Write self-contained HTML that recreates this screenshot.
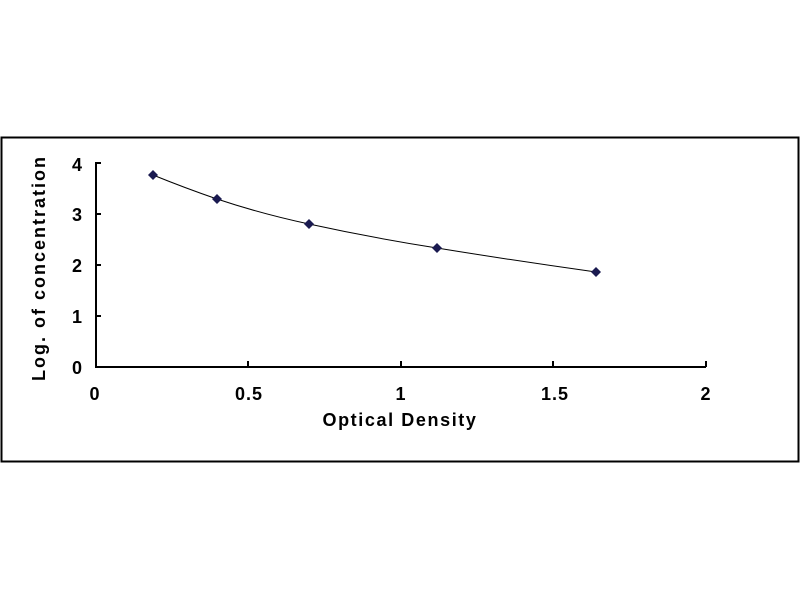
<!DOCTYPE html>
<html><head><style>body{margin:0;background:#fff}</style></head><body>
<svg width="800" height="600" xmlns="http://www.w3.org/2000/svg" font-family="Liberation Sans, sans-serif" font-weight="bold">
<rect x="0" y="0" width="800" height="600" fill="#fff"/>
<rect x="1.5" y="137.5" width="797" height="324" fill="none" stroke="#000" stroke-width="2"/>
<g stroke="#000" stroke-width="2" fill="none">
<path d="M96 162V367H706"/>
<path d="M96 163h5M96 214h5M96 265h5M96 316h5"/>
<path d="M248 367v-6M401 367v-6M553 367v-6M706 367v-6"/>
</g>
<g font-size="18" text-anchor="end">
<text x="82" y="171">4</text><text x="82" y="221">3</text><text x="82" y="272">2</text><text x="82" y="323">1</text><text x="82" y="374">0</text>
</g>
<g font-size="18" text-anchor="middle" letter-spacing="1">
<text x="95" y="400">0</text><text x="249" y="400">0.5</text><text x="401" y="400">1</text><text x="555" y="400">1.5</text><text x="706" y="400">2</text>
</g>
<text x="400" y="426" font-size="18" text-anchor="middle" letter-spacing="1.6">Optical Density</text>
<text transform="translate(45,268) rotate(-90)" font-size="18" text-anchor="middle" letter-spacing="2">Log. of concentration</text>
<path d="M153 175 Q185 188 217 199 Q262 214 309 224 Q373 238 437 248 Q517 261 596 272" fill="none" stroke="#000" stroke-width="1"/>
<g fill="#1a1a50">
<path d="M153 170l5 5-5 5-5-5z"/><path d="M217 194l5 5-5 5-5-5z"/><path d="M309 219l5 5-5 5-5-5z"/><path d="M437 243l5 5-5 5-5-5z"/><path d="M596 267l5 5-5 5-5-5z"/>
</g>
</svg>
</body></html>
